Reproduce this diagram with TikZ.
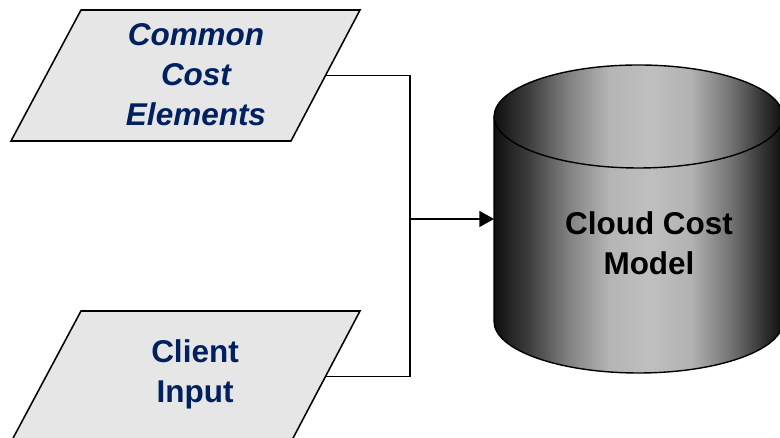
\documentclass[tikz,border=0pt]{standalone}
\usepackage{fontspec}
\setsansfont{Liberation Sans}
\usetikzlibrary{arrows.meta,positioning,calc}
\definecolor{inputnavy}{RGB}{0,32,96}
\definecolor{boxgray}{RGB}{230,230,230}
% drum shading: dark rims, light band just right of centre
\pgfdeclarehorizontalshading{drumshade}{100bp}{
  color(0bp)=(black!94); color(25bp)=(black!94);
  color(31bp)=(black!76); color(38bp)=(black!49);
  color(45bp)=(black!29); color(52bp)=(black!25);
  color(59bp)=(black!30); color(66bp)=(black!55);
  color(72bp)=(black!82); color(75bp)=(black!94);
  color(100bp)=(black!94)}

\begin{document}
\begin{tikzpicture}[
  font=\sffamily\bfseries\fontsize{22.4}{28.5}\selectfont,
  inbox/.style={draw=black,line width=1.1pt,fill=boxgray,line join=miter},
  intext/.style={align=center,text=inputnavy,inner sep=0pt},
  link/.style={line width=1.1pt},
  arr/.style={-{Triangle[length=3.7mm,width=4mm]},line width=1.1pt}]

% page 780x438 px at 40 px/cm; slant of the input boxes 1.725 over 3.275
\useasboundingbox (0,0) rectangle (19.5,10.95);

% ---- inputs ----
\draw[inbox] (0.275,7.425) -- (7.275,7.425) -- (9.0,10.7) -- (2.025,10.7) -- cycle;
\coordinate (common) at (8.1375,9.0625);
\node[intext,font=\sffamily\bfseries\itshape\fontsize{22.4}{28.5}\selectfont]
  (common-txt) at (4.9,9.09) {Common\\Cost\\Elements};
\draw[inbox] (0.275,-0.1) -- (7.275,-0.1) -- (9.0,3.175) -- (2.025,3.175) -- cycle;
\coordinate (client) at (8.1375,1.5375);
\node[intext] (client-txt) at (4.875,1.60) {Client\\Input};

% ---- model drum (rx 3.61, ry 1.2875, ends at y 8.0375 / 2.9125) ----
\shadedraw[shading=drumshade,line width=1pt]
  (12.3525,8.0375) arc[start angle=180,end angle=0,x radius=3.61,y radius=1.2875]
  -- (19.5725,2.9125) arc[start angle=0,end angle=-180,x radius=3.61,y radius=1.2875]
  -- cycle;
\draw[line width=1pt] (12.3525,8.0375)
  arc[start angle=180,end angle=360,x radius=3.61,y radius=1.2875];
\coordinate (model) at (12.3525,5.475);
\node[align=center,inner sep=0pt] (model-txt) at (16.225,4.8625)
  {Cloud Cost\\Model};

% ---- connectors ----
\path (model) ++(-2.1,0) coordinate (join);
\draw[link] (common) -| (join) |- (client);
\draw[arr] (join) -- (model);
\end{tikzpicture}
\end{document}
